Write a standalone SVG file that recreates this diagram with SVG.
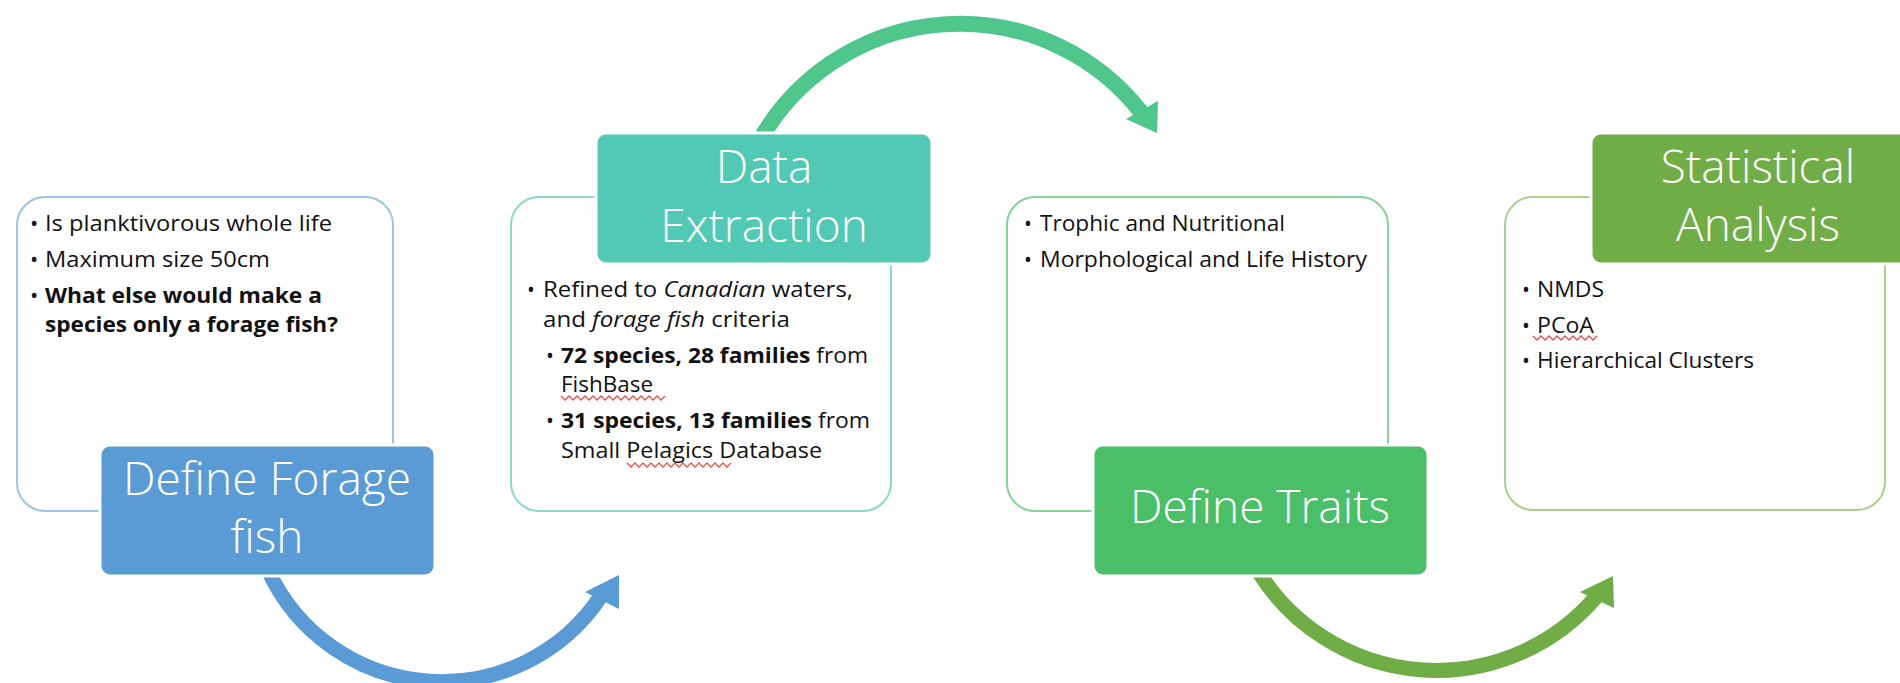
<svg xmlns="http://www.w3.org/2000/svg" width="1900" height="683" viewBox="0 0 1900 683">
<style>
.outline{fill:#fff;stroke-width:2}
.title{stroke:#fff;stroke-width:3}
.tt{font-family:"Open Sans","Liberation Sans",sans-serif;font-weight:300;font-size:46px;fill:#fff;text-anchor:middle}
.bt{font-family:"Open Sans","Liberation Sans",sans-serif;font-size:21px;fill:#111}
.b1{font-size:22px}
.b{font-weight:bold}
.i{font-style:italic}
.arc{fill:none}
.sq{fill:none;stroke:#e8504a;stroke-width:1.3}
</style>
<rect width="1900" height="683" fill="#fff"/>
<g id="connectors">
  <path class="arc" d="M268,570 A191,191 0 0 0 601,596" stroke="#5B9BD5" stroke-width="15"/>
  <polygon points="619,575 585,592 619,609" fill="#5B9BD5"/>
  <path class="arc" d="M760,140 A230,230 0 0 1 1141,112" stroke="#4FC68B" stroke-width="16"/>
  <polygon points="1158,101 1126,119 1157,133" fill="#4FC68B"/>
  <path class="arc" d="M1258,571 A210,210 0 0 0 1596,597" stroke="#70AD47" stroke-width="15"/>
  <polygon points="1613,576 1580,592 1614,608" fill="#70AD47"/>
</g>
<g id="node-forage">
  <rect class="outline" x="17" y="197" width="376" height="314" rx="28" stroke="#9DC3E6"/>
  <text class="bt b1" x="30" y="231">•</text><text class="bt b1" x="45" y="231" textLength="287" lengthAdjust="spacingAndGlyphs">Is planktivorous whole life</text>
  <text class="bt b1" x="30" y="267">•</text><text class="bt b1" x="45" y="267" textLength="225" lengthAdjust="spacingAndGlyphs">Maximum size 50cm</text>
  <text class="bt b1" x="30" y="303">•</text><text class="bt b1 b" x="45" y="303" textLength="277" lengthAdjust="spacingAndGlyphs">What else would make a</text>
  <text class="bt b1 b" x="45" y="332" textLength="293" lengthAdjust="spacingAndGlyphs">species only a forage fish?</text>
  <rect class="title" x="100" y="445" width="335" height="131" rx="10" fill="#5B9BD5"/>
  <text class="tt" x="267" y="495">Define Forage</text>
  <text class="tt" x="267" y="553">fish</text>
</g>
<g id="node-extraction">
  <rect class="outline" x="511" y="197" width="380" height="314" rx="28" stroke="#8ED8C8"/>
  <text class="bt" x="527" y="297">•</text><text class="bt" x="543" y="297" textLength="310" lengthAdjust="spacingAndGlyphs">Refined to <tspan class="i">Canadian</tspan> waters,</text>
  <text class="bt" x="543" y="327" textLength="247" lengthAdjust="spacingAndGlyphs">and <tspan class="i">forage fish</tspan> criteria</text>
  <text class="bt" x="546" y="363">•</text><text class="bt" x="561" y="363" textLength="307" lengthAdjust="spacingAndGlyphs"><tspan class="b">72 species, 28 families</tspan> from</text>
  <text class="bt" x="561" y="392" textLength="92" lengthAdjust="spacingAndGlyphs">FishBase</text>
  <text class="bt" x="546" y="428">•</text><text class="bt" x="561" y="428" textLength="309" lengthAdjust="spacingAndGlyphs"><tspan class="b">31 species, 13 families</tspan> from</text>
  <text class="bt" x="561" y="458" textLength="261" lengthAdjust="spacingAndGlyphs">Small Pelagics Database</text>
  <polyline class="sq" points="561,396 565,400 569,396 573,400 577,396 581,400 585,396 589,400 593,396 597,400 601,396 605,400 609,396 613,400 617,396 621,400 625,396 629,400 633,396 637,400 641,396 645,400 649,396 653,400 657,396 661,400 665,396"/>
  <polyline class="sq" points="627,463 631,467 635,463 639,467 643,463 647,467 651,463 655,467 659,463 663,467 667,463 671,467 675,463 679,467 683,463 687,467 691,463 695,467 699,463 703,467 707,463 711,467 715,463 719,467 723,463 727,467 731,463"/>
  <rect class="title" x="596" y="133" width="336" height="131" rx="10" fill="#52C9B5"/>
  <text class="tt" x="764" y="183">Data</text>
  <text class="tt" x="764" y="242">Extraction</text>
</g>
<g id="node-traits">
  <rect class="outline" x="1007" y="197" width="381" height="314" rx="28" stroke="#86D39A"/>
  <text class="bt" x="1024" y="231">•</text><text class="bt" x="1040" y="231" textLength="245" lengthAdjust="spacingAndGlyphs">Trophic and Nutritional</text>
  <text class="bt" x="1024" y="267">•</text><text class="bt" x="1040" y="267" textLength="327" lengthAdjust="spacingAndGlyphs">Morphological and Life History</text>
  <rect class="title" x="1093" y="445" width="335" height="131" rx="10" fill="#4BBF68"/>
  <text class="tt" x="1260" y="523">Define Traits</text>
</g>
<g id="node-stats">
  <rect class="outline" x="1505" y="197" width="380" height="313" rx="28" stroke="#A9D18E"/>
  <text class="bt" x="1522" y="297">•</text><text class="bt" x="1537" y="297" textLength="67" lengthAdjust="spacingAndGlyphs">NMDS</text>
  <text class="bt" x="1522" y="333">•</text><text class="bt" x="1537" y="333" textLength="57" lengthAdjust="spacingAndGlyphs">PCoA</text>
  <text class="bt" x="1522" y="368">•</text><text class="bt" x="1537" y="368" textLength="217" lengthAdjust="spacingAndGlyphs">Hierarchical Clusters</text>
  <polyline class="sq" points="1533,336 1537,340 1541,336 1545,340 1549,336 1553,340 1557,336 1561,340 1565,336 1569,340 1573,336 1577,340 1581,336 1585,340 1589,336 1593,340 1597,336"/>
  <rect class="title" x="1591" y="133" width="340" height="131" rx="10" fill="#70AD47"/>
  <text class="tt" x="1758" y="183">Statistical</text>
  <text class="tt" x="1758" y="241">Analysis</text>
</g>
</svg>
